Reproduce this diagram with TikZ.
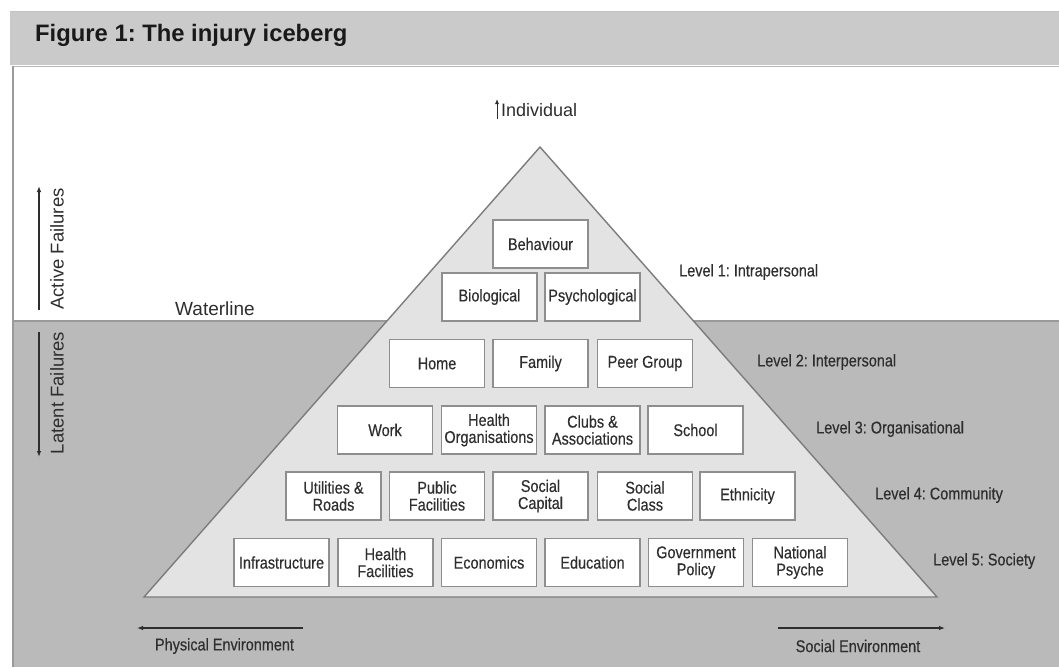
\documentclass[tikz,border=0pt]{standalone}
\usepackage{fontspec}
\setmainfont{Liberation Sans}
\newfontfamily\narrowfont[FakeStretch=0.85,FakeBold=0.35]{Liberation Sans}
\usetikzlibrary{arrows.meta}
\frenchspacing

\definecolor{titlebar}{HTML}{CACACA}
\definecolor{deepwater}{HTML}{BABABA}
\definecolor{berg}{HTML}{E3E3E3}
\definecolor{bergline}{HTML}{7C7C7C}
\definecolor{boxline}{HTML}{8E8E8E}
\definecolor{ink}{HTML}{2E2E2E}
\definecolor{frameline}{HTML}{9A9A9A}

\tikzset{
  factor/.style={draw=boxline, line width=1.4pt, fill=white,
    minimum width=95pt, minimum height=48pt, inner sep=1pt,
    align=center, text=ink,
    font=\narrowfont\fontsize{17}{17}\selectfont},
  levellabel/.style={anchor=west, text=ink, inner sep=0pt,
    font=\narrowfont\fontsize{17}{17}\selectfont},
  sidelabel/.style={text=ink, inner sep=0pt,
    font=\fontsize{18.5}{19}\selectfont},
  envlabel/.style={text=ink, inner sep=0pt,
    font=\narrowfont\fontsize{17}{17}\selectfont},
  pointer/.style={draw=ink, line width=1.1pt, -{Latex[length=6pt,width=4.5pt]}}
}

\begin{document}
\begin{tikzpicture}[x=1pt, y=-1pt]
\useasboundingbox (0,0) rectangle (1059,667);
\fill[white] (0,0) rectangle (1059,667);

% title bar
\fill[titlebar] (10,11) rectangle (1059,65);
\draw[frameline!60, line width=0.8pt] (10,11) -- (1059,11);
\node[anchor=base west, inner sep=0pt, text=black!90,
  font=\bfseries\fontsize{23.8}{25}\selectfont] (title) at (35,41)
  {Figure 1: The injury iceberg};

% sea below the waterline and frame
\fill[deepwater] (13,321) rectangle (1059,667);
\draw[frameline!70, line width=0.8pt] (13,66.5) -- (1059,66.5);
\draw[frameline, line width=1.3pt] (13,66) -- (13,667);
\draw[frameline, line width=1.5pt] (13,321) -- (1059,321);

% the iceberg
\coordinate (apex) at (540,147);
\coordinate (baseL) at (144,597);
\coordinate (baseR) at (937,597);
\filldraw[fill=berg, draw=bergline, line width=1.4pt, line join=miter]
  (apex) -- (baseR) -- (baseL) -- cycle;

% level 1
\node[factor] (behaviour) at (540.5,244) {Behaviour};
\node[factor] (biological) at (489.5,297) {Biological};
\node[factor] (psychological) at (592.5,297) {Psychological};
% level 2
\node[factor] (home) at (437,363.5) {Home};
\node[factor] (family) at (540.5,363.5) {Family};
\node[factor] (peer) at (645,363.5) {Peer Group};
% level 3
\node[factor] (work) at (385,430) {Work};
\node[factor] (healthorg) at (489,430) {Health\\Organisations};
\node[factor] (clubs) at (592.5,430) {Clubs \&\\Associations};
\node[factor] (school) at (695.5,430) {School};
% level 4
\node[factor] (utilities) at (333.5,496) {Utilities \&\\Roads};
\node[factor] (public) at (437,496) {Public\\Facilities};
\node[factor] (capital) at (540.5,496) {Social\\Capital};
\node[factor] (class) at (645,496) {Social\\Class};
\node[factor] (ethnicity) at (747.5,496) {Ethnicity};
% level 5
\node[factor] (infra) at (281.5,562.5) {Infrastructure};
\node[factor] (healthfac) at (385.5,562.5) {Health\\Facilities};
\node[factor] (economics) at (489,562.5) {Economics};
\node[factor] (education) at (592.5,562.5) {Education};
\node[factor] (policy) at (696,562.5) {Government\\Policy};
\node[factor] (psyche) at (800,562.5) {National\\Psyche};

% level labels
\node[levellabel] (lev1) at (679,272) {Level 1: Intrapersonal};
\node[levellabel] (lev2) at (757,362) {Level 2: Interpersonal};
\node[levellabel] (lev3) at (816,429) {Level 3: Organisational};
\node[levellabel] (lev4) at (875,495) {Level 4: Community};
\node[levellabel] (lev5) at (933,561) {Level 5: Society};

% individual
\coordinate (indivFoot) at (497,119);
\coordinate (indivTip) at (497,99);
\draw[pointer, line width=0.8pt, -{Latex[length=5pt,width=4pt]}] (indivFoot) -- (indivTip);
\node[sidelabel, anchor=west, font=\fontsize{18}{18}\selectfont] (individual) at (501,110) {Individual};

% waterline
\node[sidelabel, anchor=west, font=\fontsize{19}{19}\selectfont] (waterline) at (175,309) {Waterline};

% failures
\coordinate (activeFoot) at (39,310);
\coordinate (activeTip) at (39,186);
\draw[pointer] (activeFoot) -- (activeTip);
\node[sidelabel, rotate=90] (active) at (57,249) {Active Failures};
\coordinate (latentFoot) at (39,332);
\coordinate (latentTip) at (39,457);
\draw[pointer] (latentFoot) -- (latentTip);
\node[sidelabel, rotate=90] (latent) at (57,393) {Latent Failures};

% environments
\coordinate (physFoot) at (303,628);
\coordinate (physTip) at (137,628);
\draw[pointer] (physFoot) -- (physTip);
\node[envlabel] (physical) at (224.5,646) {Physical Environment};
\coordinate (socFoot) at (778,628);
\coordinate (socTip) at (945,628);
\draw[pointer] (socFoot) -- (socTip);
\node[envlabel] (social) at (858,646) {Social Environment};
\end{tikzpicture}
\end{document}
